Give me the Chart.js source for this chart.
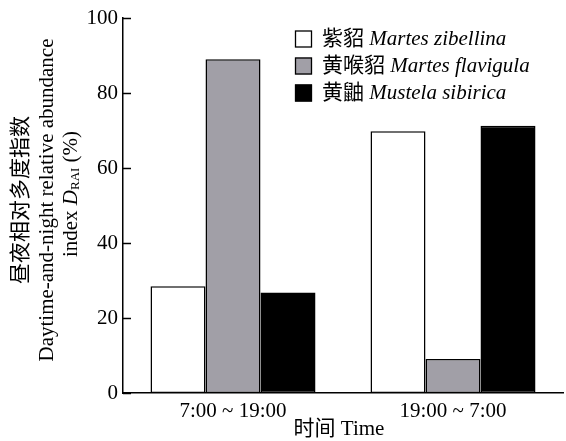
<!DOCTYPE html>
<html>
<head>
<meta charset="utf-8">
<script src="https://cdn.jsdelivr.net/npm/chart.js@4.4.1/dist/chart.umd.min.js"></script>
<style>
body{margin:0;background:#fff;}
#wrap{width:566px;height:441px;position:relative;}
</style>
</head>
<body>
<div id="wrap"><canvas id="chart"></canvas></div>
<script>

let categories = ["7:00 ~ 19:00", "19:00 ~ 7:00"];
let speciesCn = ["紫貂", "黄喉貂", "黄鼬"];
let speciesLatin = ["Martes zibellina", "Martes flavigula", "Mustela sibirica"];
let sableValues = [28.5, 69.8];
let yellowThroatedValues = [89.0, 9.1];
let weaselValues = [26.8, 71.3];
let barColors = ["#ffffff", "#a19fa7", "#000000"];

let serif = '"Liberation Serif", "Noto Sans CJK SC", serif';

/* titles, legend and inward ticks */
let extras = {
id: "extras",
afterDraw(chart){

let ctx = chart.ctx;
let area = chart.chartArea;
let y = chart.scales.y;

ctx.save();
ctx.strokeStyle = "#000";
ctx.lineWidth = 1.5;

// inward tick marks
y.ticks.forEach(t => {
let py = Math.round(y.getPixelForValue(t.value)) + 0.5;
ctx.beginPath();
ctx.moveTo(area.left, py);
ctx.lineTo(area.left + 8, py);
ctx.stroke();
});

ctx.fillStyle = "#000";
ctx.textBaseline = "middle";

// y title
let cy = 200;
ctx.save();
ctx.translate(21, cy);
ctx.rotate(-Math.PI/2);
ctx.textAlign = "center";
ctx.font = "21px " + serif;
ctx.fillText("昼夜相对多度指数", 0, 0);
ctx.restore();

ctx.save();
ctx.translate(47, cy);
ctx.rotate(-Math.PI/2);
ctx.textAlign = "center";
ctx.font = "21px " + serif;
ctx.fillText("Daytime-and-night relative abundance", 0, 0);
ctx.restore();

let parts = [
["index ", "21px " + serif, 0],
["D", "italic 21px " + serif, 0],
["RAI", "13px " + serif, 5],
[" (%)", "21px " + serif, 0]
];
ctx.save();
ctx.translate(71, cy - 6);
ctx.rotate(-Math.PI/2);
ctx.textAlign = "left";
let total = 0;
parts.forEach(p => { ctx.font = p[1]; total += ctx.measureText(p[0]).width; });
let px = -total/2;
parts.forEach(p => {
ctx.font = p[1];
ctx.fillText(p[0], px, p[2]);
px += ctx.measureText(p[0]).width;
});
ctx.restore();

// x title
ctx.textAlign = "center";
ctx.font = "21px " + serif;
ctx.fillText("时间 Time", 339, 429);

// legend
ctx.textAlign = "left";
let rows = [39, 66, 93];
chart.data.datasets.forEach((ds, i) => {
let ry = rows[i];
ctx.fillStyle = ds.backgroundColor;
ctx.fillRect(295, ry - 8.5, 17, 17);
ctx.lineWidth = 1.3;
ctx.strokeRect(295.5, ry - 8, 16, 16);
ctx.fillStyle = "#000";
ctx.font = "21px " + serif;
let cn = speciesCn[i] + " ";
ctx.fillText(cn, 322, ry);
let w = ctx.measureText(cn).width;
ctx.font = "italic 21px " + serif;
ctx.fillText(speciesLatin[i], 322 + w, ry);
});

ctx.restore();
}
};

let ctx = document.getElementById("chart").getContext("2d");

let chart = new Chart(ctx, {
type: "bar",
data: {
labels: categories,
datasets: [
{label: speciesCn[0], data: sableValues, backgroundColor: barColors[0]},
{label: speciesCn[1], data: yellowThroatedValues, backgroundColor: barColors[1]},
{label: speciesCn[2], data: weaselValues, backgroundColor: barColors[2]}
].map(d => Object.assign(d, {
borderColor: "#000",
borderWidth: 1.5,
borderSkipped: false,
categoryPercentage: 0.75,
barPercentage: 1
}))
},
options: {
responsive: true,
maintainAspectRatio: false,
animation: false,
layout: {padding: {top: 18, right: 3, left: 0, bottom: 0}},
plugins: {
legend: {display: false},
tooltip: {enabled: false}
},
scales: {
x: {
afterFit(s){ s.height = 48; },
grid: {display: false, drawTicks: false},
border: {display: true, color: "#000", width: 1.5},
ticks: {color: "#000", padding: 6, font: {family: serif, size: 21}}
},
y: {
min: 0,
max: 100,
afterFit(s){ s.width = 123; },
grid: {display: false, drawTicks: false},
border: {display: true, color: "#000", width: 1.5},
ticks: {stepSize: 20, color: "#000", padding: 5, font: {family: serif, size: 21}}
}
}
},
plugins: [extras]
});

</script>
</body>
</html>
